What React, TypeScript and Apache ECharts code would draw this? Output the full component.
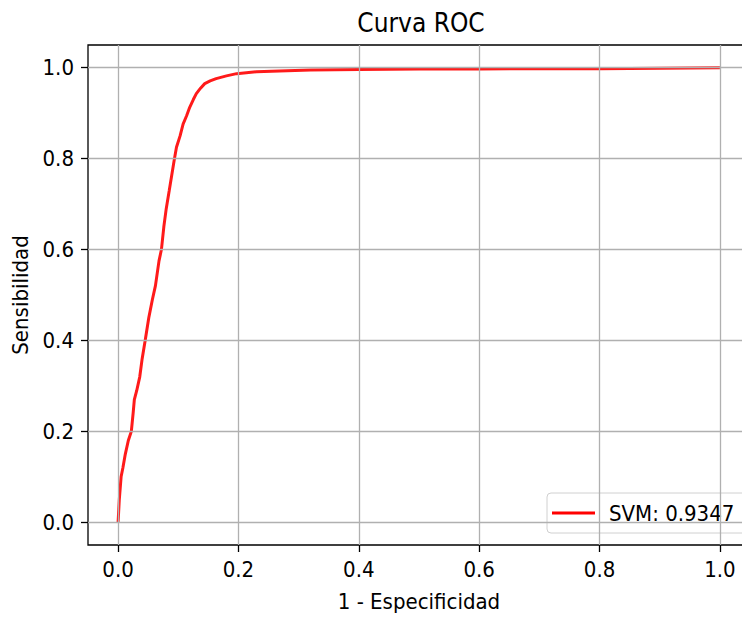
import React, { useEffect, useRef } from "react";
import * as echarts from "echarts";

const fpr = [0, 0.002, 0.005, 0.008, 0.012, 0.017, 0.022, 0.025, 0.027, 0.031, 0.036, 0.04, 0.045, 0.051, 0.057, 0.062, 0.068, 0.072, 0.076, 0.08, 0.085, 0.093, 0.097, 0.103, 0.108, 0.114, 0.119, 0.125, 0.13, 0.137, 0.144, 0.153, 0.163, 0.18, 0.197, 0.23, 0.268, 0.32, 0.4, 0.5, 0.6, 0.7, 0.8, 0.9, 1.0];
const tpr = [0, 0.05, 0.1, 0.12, 0.15, 0.18, 0.2, 0.24, 0.27, 0.29, 0.32, 0.36, 0.4, 0.45, 0.49, 0.52, 0.575, 0.6, 0.65, 0.69, 0.73, 0.795, 0.825, 0.85, 0.876, 0.895, 0.913, 0.93, 0.943, 0.955, 0.965, 0.971, 0.976, 0.982, 0.987, 0.991, 0.993, 0.995, 0.996, 0.997, 0.997, 0.998, 0.998, 0.999, 1.0];
const xTicks = [0, 0.2, 0.4, 0.6, 0.8, 1.0];
const yTicks = [0, 0.2, 0.4, 0.6, 0.8, 1.0];
const seriesName = "SVM: 0.9347";
const titleText = "Curva ROC";
const xName = "1 - Especificidad";
const yName = "Sensibilidad";

const FONT = "'DejaVu Sans Condensed', 'DejaVu Sans', sans-serif";

export default function App() {
  const ref = useRef<HTMLDivElement>(null);
  useEffect(() => {
    if (!ref.current) return;
    const chart = echarts.init(ref.current, undefined, { renderer: "svg" });
    const gridLine = { color: "#b0b0b0", width: 1.3, type: "solid" as const };
    chart.setOption({
      animation: false,
      backgroundColor: "#ffffff",
      title: {
        text: titleText,
        left: "center",
        top: 5,
        textStyle: { fontFamily: FONT, fontSize: 26, fontWeight: "normal", color: "#000" },
      },
      grid: {
        left: 88,
        top: 45,
        width: 662,
        height: 500,
        show: true,
        borderColor: "#000",
        borderWidth: 1.3,
        backgroundColor: "transparent",
      },
      legend: {
        data: [seriesName],
        left: 547,
        top: 493,
        orient: "vertical",
        icon: "rect",
        itemWidth: 43,
        itemHeight: 3,
        padding: [7, 12, 7, 5],
        backgroundColor: "rgba(255,255,255,0.8)",
        borderColor: "#d0d0d0",
        borderWidth: 1,
        borderRadius: 4,
        textStyle: { fontFamily: FONT, fontSize: 22, color: "#000", lineHeight: 26, padding: [0, 0, 0, 9] },
      },
      xAxis: {
        type: "value",
        min: -0.05,
        max: 1.05,
        name: xName,
        nameLocation: "middle",
        nameGap: 45,
        nameTextStyle: { fontFamily: FONT, fontSize: 22, color: "#000" },
        axisLine: { show: false, onZero: false },
        axisTick: { show: true, length: 7, customValues: xTicks, lineStyle: { color: "#000", width: 1.3 } },
        axisLabel: {
          customValues: xTicks,
          margin: 13,
          fontFamily: FONT,
          fontSize: 22,
          color: "#000",
          formatter: (v: number) => v.toFixed(1),
        },
        splitLine: { show: false },
      },
      yAxis: {
        type: "value",
        min: -0.05,
        max: 1.05,
        name: yName,
        nameLocation: "middle",
        nameRotate: 90,
        nameGap: 52,
        nameTextStyle: { fontFamily: FONT, fontSize: 22, color: "#000" },
        axisLine: { show: false, onZero: false },
        axisTick: { show: true, length: 7, customValues: yTicks, lineStyle: { color: "#000", width: 1.3 } },
        axisLabel: {
          customValues: yTicks,
          margin: 14,
          fontFamily: FONT,
          fontSize: 22,
          color: "#000",
          formatter: (v: number) => v.toFixed(1),
        },
        splitLine: { show: false },
      },
      series: [
        {
          name: "grid",
          type: "line",
          data: [],
          z: 1,
          silent: true,
          markLine: {
            silent: true,
            symbol: "none",
            label: { show: false },
            lineStyle: gridLine,
            animation: false,
            data: [
              ...xTicks.map((v) => ({ xAxis: v })),
              ...yTicks.map((v) => ({ yAxis: v })),
            ],
          },
        },
        {
          name: seriesName,
          type: "line",
          z: 3,
          data: fpr.map((x, i) => [x, tpr[i]]),
          showSymbol: false,
          symbol: "none",
          color: "#ff0000",
          lineStyle: { color: "#ff1a1a", width: 3 },
        },
      ],
    });
    return () => chart.dispose();
  }, []);
  return (
    <div
      ref={ref}
      style={{ position: "fixed", left: 0, top: 0, width: 842, height: 619, background: "#fff" }}
    />
  );
}
